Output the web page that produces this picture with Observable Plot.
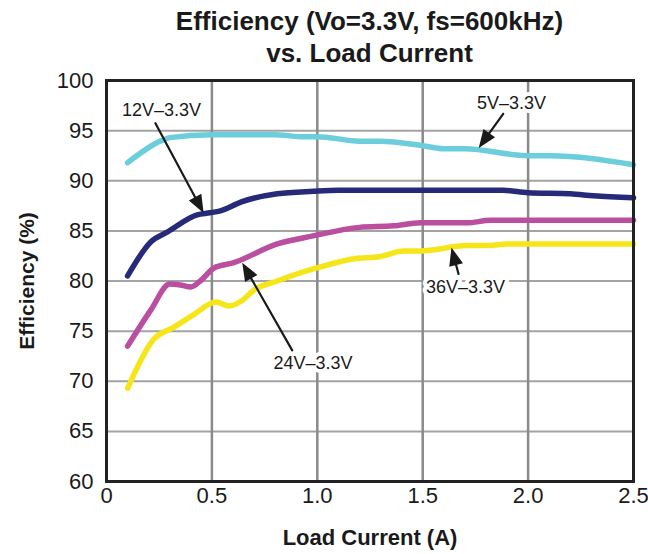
<!DOCTYPE html>
<html>
<head>
<meta charset="utf-8">
<script src="https://cdn.jsdelivr.net/npm/d3@7"></script>
<script src="https://cdn.jsdelivr.net/npm/@observablehq/plot@0.6"></script>
<style>
  body { margin: 0; background: #fff; font-family: "Liberation Sans", Arial, Helvetica, sans-serif; }
  #wrap { position: relative; width: 648px; height: 554px; }
  #title { position: absolute; left: 106px; top: 0; width: 527px; padding-top: 5px;
           text-align: center; font-weight: bold; font-size: 26px; line-height: 32px; color: #1a1a1a; z-index: 1; }
  #chart svg { display: block; }
</style>
</head>
<body>
<div id="wrap">
<div id="title">Efficiency (Vo=3.3V, fs=600kHz)<br>vs. Load Current</div>
<div id="chart"></div>
</div>
<script>
// ---- data ----
const seriesNames = ["5V–3.3V", "12V–3.3V", "24V–3.3V", "36V–3.3V"];
const seriesColors = ["#6ccedd", "#262a78", "#bb4f9f", "#f6e619"];

const load5 = [0.1, 0.26, 0.3, 0.5, 0.8, 0.92, 1.0, 1.2, 1.3, 1.5, 1.6, 1.7, 2.0, 2.1, 2.5];
const eff5  = [91.8, 94.0, 94.3, 94.6, 94.6, 94.4, 94.4, 93.95, 93.95, 93.5, 93.2, 93.2, 92.5, 92.5, 91.6];

const load12 = [0.1, 0.21, 0.29, 0.43, 0.49, 0.54, 0.64, 0.81, 0.98, 1.1, 1.3, 1.88, 2.0, 2.2, 2.31, 2.5];
const eff12  = [80.5, 83.9, 84.9, 86.6, 86.8, 87.0, 87.9, 88.7, 88.95, 89.05, 89.05, 89.05, 88.8, 88.7, 88.5, 88.3];

const load24 = [0.1, 0.21, 0.3, 0.35, 0.4, 0.45, 0.51, 0.6, 0.81, 0.98, 1.2, 1.36, 1.49, 1.71, 1.82, 2.5];
const eff24  = [73.5, 77.1, 79.7, 79.6, 79.4, 80.1, 81.3, 81.8, 83.7, 84.5, 85.35, 85.5, 85.8, 85.8, 86.05, 86.05];

const load36 = [0.1, 0.22, 0.32, 0.41, 0.52, 0.58, 0.64, 0.7, 0.81, 0.98, 1.17, 1.3, 1.41, 1.49, 1.71, 1.81, 1.9, 2.5];
const eff36  = [69.3, 74.1, 75.4, 76.6, 77.9, 77.5, 78.0, 79.1, 80.0, 81.2, 82.2, 82.45, 83.0, 83.0, 83.55, 83.55, 83.7, 83.7];

const xTicks = [0, 0.5, 1, 1.5, 2, 2.5];
const xTickLabels = ["0", "0.5", "1.0", "1.5", "2.0", "2.5"];
const yTicks = [60, 65, 70, 75, 80, 85, 90, 95, 100];

// annotation labels and arrows (data coordinates)
const annText = ["12V–3.3V", "5V–3.3V", "24V–3.3V", "36V–3.3V"];
const annX = [0.261, 1.921, 0.98, 1.703];
const annY = [97.0, 97.7, 71.8, 79.4];
const arrowX1 = [0.232, 1.882, 0.881, 1.67];
const arrowY1 = [95.74, 96.68, 73.08, 80.7];
const arrowX2 = [0.454, 1.774, 0.651, 1.64];
const arrowY2 = [87.04, 93.52, 81.56, 83.05];

const xTitle = "Load Current (A)";
const yTitle = "Efficiency (%)";

// ---- build tables ----
const loads = [load5, load12, load24, load36];
const effs = [eff5, eff12, eff24, eff36];
const table = [];
seriesNames.forEach((s, k) => loads[k].forEach((x, i) => table.push({series: s, load: x, eff: effs[k][i]})));
const ann = annText.map((t, i) => ({text: t, x: annX[i], y: annY[i]}));
const arrows = annText.map((t, i) => ({x1: arrowX1[i], y1: arrowY1[i], x2: arrowX2[i], y2: arrowY2[i]}));

const layout = {
  width: 648, height: 554,
  marginLeft: 106, marginRight: 15, marginTop: 80, marginBottom: 73,
  x: {domain: [0, 2.5]},
  y: {domain: [60, 100]}
};

// first pass: obtain the position scales to orient the arrows in screen space
const probe = Plot.plot({...layout, marks: [Plot.frame()]});
const sx = probe.scale("x"), sy = probe.scale("y");
arrows.forEach(a => {
  const dx = sx.apply(a.x2) - sx.apply(a.x1);
  const dy = sy.apply(a.y2) - sy.apply(a.y1);
  a.len = Math.hypot(dx, dy);
  a.rot = Math.atan2(dx, -dy) * 180 / Math.PI;
});

const arrowShape = {
  draw(ctx, l, r) {
    const h = 14, w = 5.5;
    ctx.moveTo(0, 0);
    ctx.lineTo(0, -l + h - 1);
    ctx.moveTo(0, -l);
    ctx.lineTo(-w, -l + h);
    ctx.lineTo(w, -l + h);
    ctx.closePath();
  }
};

const plot = Plot.plot({
  ...layout,
  style: {fontFamily: "'Liberation Sans', Arial, Helvetica, sans-serif", color: "#1a1a1a", background: "transparent"},
  color: {domain: seriesNames, range: seriesColors},
  length: {type: "identity"},
  marks: [
    Plot.gridY({ticks: yTicks, stroke: "#a3a3a3", strokeWidth: 2, strokeOpacity: 1}),
    Plot.gridX({ticks: xTicks, stroke: "#8a8a8a", strokeWidth: 2.5, strokeOpacity: 1}),
    Plot.line(table, {x: "load", y: "eff", z: "series", stroke: "series", strokeWidth: 5.5, curve: "monotone-x"}),
    Plot.frame({stroke: "#222", strokeWidth: 3}),
    Plot.axisX({ticks: xTicks, tickFormat: d => xTickLabels[xTicks.indexOf(d)], tickSize: 0, tickPadding: 6, fontSize: 22, label: null}),
    Plot.axisY({ticks: yTicks, tickSize: 0, tickPadding: 13, fontSize: 22, label: null}),
    Plot.vector(arrows, {x: "x2", y: "y2", anchor: "end", rotate: "rot", length: "len", shape: arrowShape,
                         stroke: "#1a1a1a", fill: "#1a1a1a", strokeWidth: 2.2, strokeLinejoin: "miter"}),
    Plot.text(ann, {x: "x", y: "y", text: "text", fontSize: 18, fill: "#1a1a1a", stroke: "white", strokeWidth: 8, paintOrder: "stroke"}),
    Plot.text([xTitle], {text: d => d, frameAnchor: "bottom", lineAnchor: "middle", textAnchor: "middle", dy: 56, fontSize: 22, fontWeight: "bold"}),
    Plot.text([yTitle], {text: d => d, frameAnchor: "left", textAnchor: "middle", lineAnchor: "middle", dx: -79, rotate: -90, fontSize: 21, fontWeight: "bold"})
  ]
});
document.getElementById("chart").appendChild(plot);
</script>
</body>
</html>
